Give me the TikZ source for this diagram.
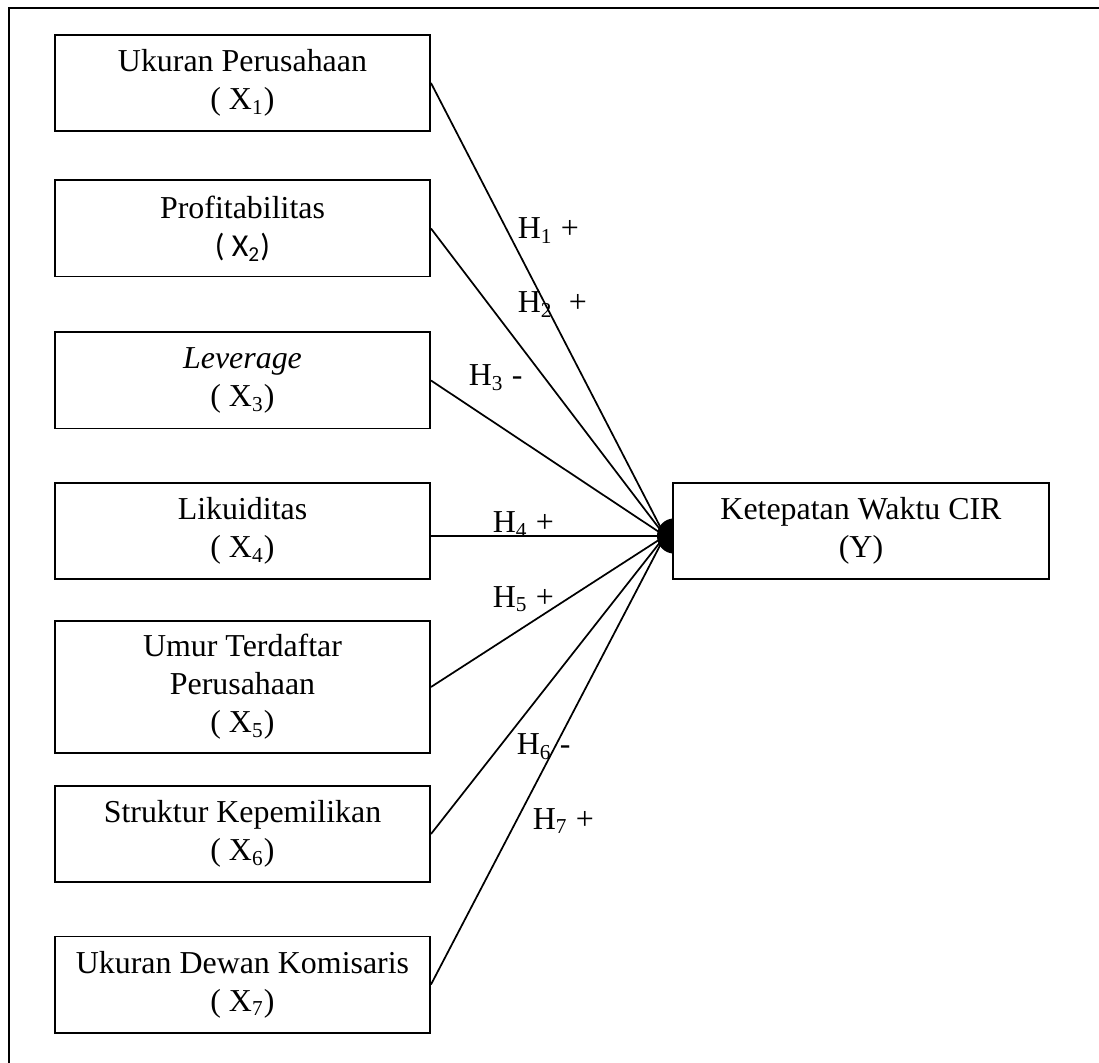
\documentclass[tikz,border=0pt]{standalone}
\usepackage{fontspec}
\setmainfont{Liberation Serif}
\newfontfamily\calibri{Carlito}
\begin{document}
\begin{tikzpicture}[x=0.376pt,y=-0.376pt,line width=0.65pt,
  every node/.style={font=\fontsize{12}{14.3}\selectfont},
  varbox/.style={draw,line width=0.75pt,minimum width=141pt,minimum height=36.1pt,align=center,inner sep=0pt},
  hlabel/.style={anchor=base west,inner sep=0pt}]
\useasboundingbox (0,0) rectangle (1099,1063);
% Rahmen (nur oben und links sichtbar)
\draw[line width=0.75pt] (9,1063) -- (9,8) -- (1099,8);
% Unabhaengige Variablen
\node (X1) at (242.5, 83)   [varbox] {Ukuran Perusahaan\\( X\textsubscript{1})};
\node (X2) at (242.5,228.5) [varbox] {Profitabilitas\\{\calibri ( X\textsubscript{2})}};
\node (X3) at (242.5,380.5) [varbox] {\textit{Leverage}\\( X\textsubscript{3})};
\node (X4) at (242.5,531)   [varbox] {Likuiditas\\( X\textsubscript{4})};
\node (X5) at (242.5,687)   [varbox,minimum height=49.6pt] {Umur Terdaftar\\Perusahaan\\( X\textsubscript{5})};
\node (X6) at (242.5,834)   [varbox] {Struktur Kepemilikan\\( X\textsubscript{6})};
\node (X7) at (242.5,984.5) [varbox] {Ukuran Dewan Komisaris\\( X\textsubscript{7})};
% Zusammenlauf vor der abhaengigen Variable
\coordinate (J) at (665,536);
\foreach \i in {1,2,3,5,6,7} \draw (X\i.east) -- (J);
\draw (X4.east |- J) -- (J);
\fill (674,536) ellipse [x radius=6.4pt,y radius=6.6pt];
% Abhaengige Variable
\node (Y) at (861,531) [varbox,fill=white,minimum width=141.4pt] {Ketepatan Waktu CIR\\(Y)};
% Hypothesen
\node (H1) at (517,239) [hlabel] {H\textsubscript{1} +};
\node (H2) at (517,313) [hlabel] {H\textsubscript{2}~ +};
\node (H3) at (468,386) [hlabel] {H\textsubscript{3} -};
\node (H4) at (492,533) [hlabel] {H\textsubscript{4} +};
\node (H5) at (492,607) [hlabel] {H\textsubscript{5} +};
\node (H6) at (516,755) [hlabel] {H\textsubscript{6} -};
\node (H7) at (532,829) [hlabel] {H\textsubscript{7} +};
\end{tikzpicture}
\end{document}
